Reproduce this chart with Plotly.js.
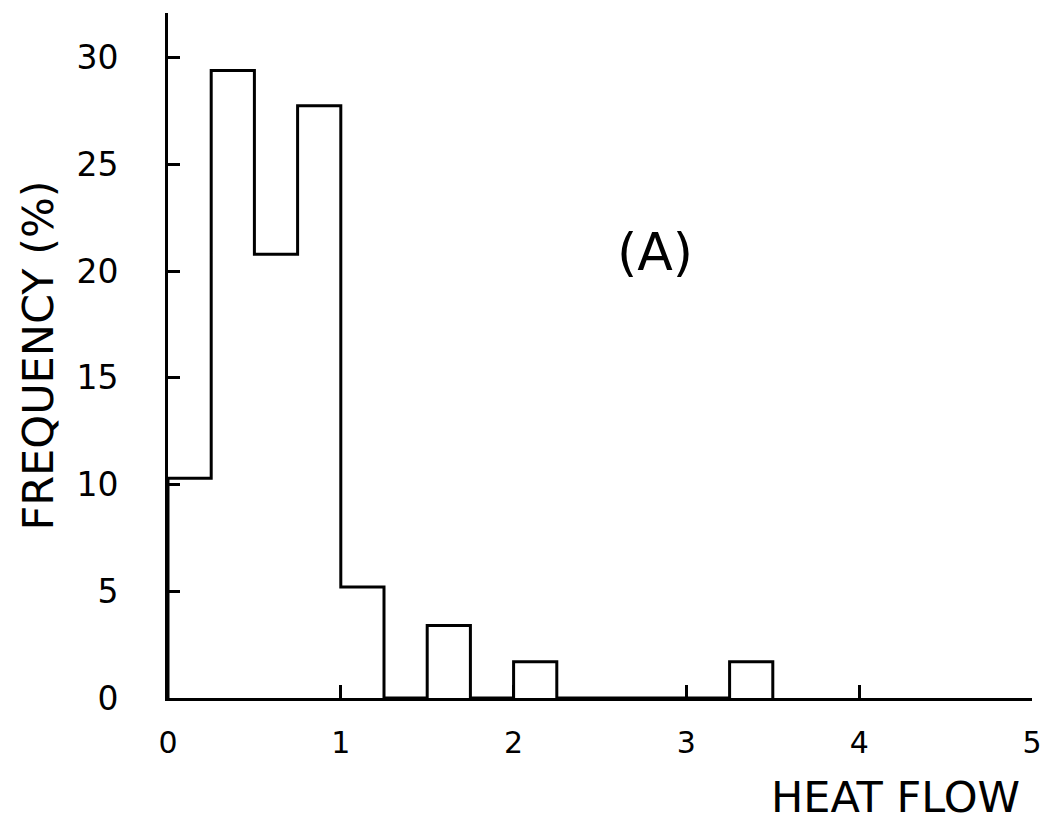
<!DOCTYPE html>
<html>
<head>
<meta charset="utf-8">
<script src="https://cdn.plot.ly/plotly-3.0.1.min.js"></script>
<style>html,body{margin:0;padding:0;background:#fff;}#chart{width:1047px;height:822px;}</style>
</head>
<body>
<div id="chart"></div>
<script>
// Histogram of heat flow (bin width 0.25), drawn as a stepped outline
const binStart = [0, 0.25, 0.5, 0.75, 1.0, 1.25, 1.5, 1.75, 2.0, 2.25, 2.5, 2.75, 3.0, 3.25, 3.5];
const frequency = [10.3, 29.4, 20.8, 27.75, 5.2, 0, 3.4, 0, 1.7, 0, 0, 0, 0, 1.7, 0];
const xTicks = [0, 1, 2, 3, 4, 5];
const xTickLabels = ["0", "1", "2", "3", "4", "5"];
const yTicks = [0, 5, 10, 15, 20, 25, 30];
const yTickLabels = ["0", "5", "10", "15", "20", "25", "30"];
const xTitle = "HEAT FLOW";
const yTitle = "FREQUENCY (%)";
const panelLabel = "(A)";

const FONT = "DejaVu Sans, sans-serif";

// step outline: start at the baseline, then each bin's level from its left edge
const stepX = [binStart[0]].concat(binStart);
const stepY = [0].concat(frequency);

const trace = {
  type: "scatter", mode: "lines",
  x: stepX, y: stepY,
  line: {shape: "hv", color: "#000", width: 3},
  hoverinfo: "skip", cliponaxis: false
};

const layout = {
  width: 1047, height: 822,
  margin: {l: 168, r: 15, t: 13, b: 124},
  paper_bgcolor: "#fff", plot_bgcolor: "#fff",
  showlegend: false,
  xaxis: {
    range: [0, 5], showline: true, linewidth: 3, linecolor: "#000",
    ticks: "inside", ticklen: 13, tickwidth: 3, tickcolor: "#000",
    tickvals: xTicks, ticktext: xTickLabels,
    tickfont: {family: FONT, size: 30, color: "#000"},
    ticklabelstandoff: 16,
    showgrid: false, zeroline: false, fixedrange: true
  },
  yaxis: {
    range: [0, 32.1], showline: true, linewidth: 3, linecolor: "#000",
    ticks: "inside", ticklen: 12, tickwidth: 3, tickcolor: "#000",
    tickvals: yTicks, ticktext: yTickLabels,
    tickfont: {family: FONT, size: 33, color: "#000"},
    ticklabelstandoff: 40,
    showgrid: false, zeroline: false, fixedrange: true
  },
  annotations: [
    {text: panelLabel, xref: "x", yref: "y", x: 2.82, y: 20.9, showarrow: false,
     xanchor: "center", yanchor: "middle", font: {family: FONT, size: 52, color: "#000"}},
    {text: xTitle, xref: "paper", yref: "paper", x: 1, y: -0.177, showarrow: false,
     xanchor: "right", yanchor: "bottom", xshift: -10, yshift: -5, font: {family: FONT, size: 43, color: "#000"}},
    {text: yTitle, xref: "paper", yref: "paper", x: 0, y: 0.5, showarrow: false, textangle: -90,
     xanchor: "center", yanchor: "middle", xshift: -131, font: {family: FONT, size: 43, color: "#000"}}
  ]
};

Plotly.newPlot("chart", [trace], layout, {displayModeBar: false, staticPlot: true});
</script>
</body>
</html>
